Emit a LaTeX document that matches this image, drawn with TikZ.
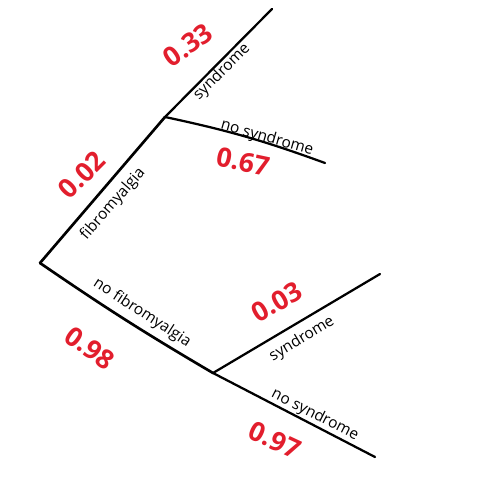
\documentclass[tikz,border=0pt]{standalone}
\usepackage{fontspec}
\setmainfont{Open Sans}
\usepackage{xcolor}
\usetikzlibrary{positioning}
\definecolor{markred}{RGB}{226,30,45}
\tikzset{
  branch/.style={line width=1.9pt, line cap=round, line join=round},
  event/.style={inner sep=0pt, font=\fontsize{11}{13}\selectfont},
  prob/.style={inner sep=0pt, text=markred, font=\fontsize{19}{21}\selectfont\bfseries}
}

\begin{document}
\begin{tikzpicture}[x=0.025cm, y=0.025cm]
  % page in pixel units, y downward as negative
  \useasboundingbox (0,0) rectangle (480,-492);
  % ---------- tree points ----------
  \coordinate (root) at (40,-263);
  \coordinate (fib) at (165,-117);
  \coordinate (nofib) at (213,-373);
  \coordinate (fibsyn) at (272,-9);
  \coordinate (fibnosyn) at (325,-163);
  \coordinate (nofibsyn) at (380,-274);
  \coordinate (nofibnosyn) at (375,-457);
  % ---------- branches ----------
  \draw[branch] (root) -- (fib);
  \draw[branch] (root) to[bend right=2] (nofib);
  \draw[branch, line width=1.6pt] (fib) -- (fibsyn);
  \draw[branch, line width=1.6pt] (fib) to[bend left=4] (fibnosyn);
  \draw[branch, line width=1.6pt] (nofib) -- (nofibsyn);
  \draw[branch, line width=1.6pt] (nofib) -- (nofibnosyn);
  % ---------- first stage labels ----------
  \node[event, rotate=49] (fiblab) at (113,-204) {fibromyalgia};
  \node[prob, rotate=45] (fibp) at (82,-175) {0.02};
  \node[event, rotate=-33] (nofiblab) at (142,-313) {no fibromyalgia};
  \node[prob, rotate=-36] (nofibp) at (90,-348) {0.98};
  % ---------- second stage, fibromyalgia ----------
  \node[event, rotate=45] (fibsynlab) at (222,-72) {syndrome};
  \node[prob, rotate=35] (fibsynp) at (188,-45) {0.33};
  \node[event, rotate=-16] (fibnosynlab) at (267,-138) {no syndrome};
  \node[prob, rotate=-12] (fibnosynp) at (243,-162) {0.67};
  % ---------- second stage, no fibromyalgia ----------
  \node[event, rotate=31] (nofibsynlab) at (302,-339) {syndrome};
  \node[prob, rotate=30] (nofibsynp) at (277,-302) {0.03};
  \node[event, rotate=-27] (nofibnosynlab) at (315,-415) {no syndrome};
  \node[prob, rotate=-25] (nofibnosynp) at (275,-440) {0.97};
\end{tikzpicture}
\end{document}
